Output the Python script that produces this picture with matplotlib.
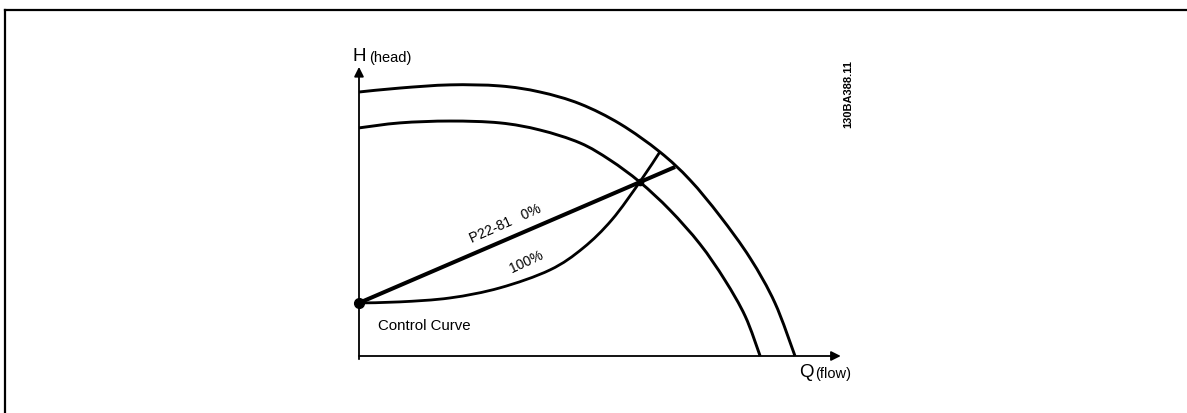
import matplotlib
matplotlib.use("Agg")
import numpy as np
import matplotlib.pyplot as plt
from matplotlib.lines import Line2D
from matplotlib.path import Path
from matplotlib.patches import PathPatch

plt.rcParams['font.family'] = ['Liberation Sans', 'DejaVu Sans']

# ---- data (Q = flow, H = head, arbitrary units) ----
outer_q = [0, 9.4, 20.9, 32.3, 41.5, 50.7, 59.9, 69.0, 75.9, 82.8, 89.7, 95.4, 100.0]
outer_h = [100.0, 101.5, 102.7, 102.3, 100.0, 95.5, 87.9, 77.3, 66.7, 53.0, 37.1, 20.1, 0]

inner_q = [0, 9.4, 20.9, 32.3, 41.5, 50.7, 57.6, 64.4, 71.3, 78.2, 83.9, 88.6, 92.0]
inner_h = [86.4, 88.3, 89.0, 88.3, 85.6, 80.7, 74.2, 65.9, 55.3, 42.4, 28.8, 15.0, 0]

line_q = [0, 72.5]
line_h = [20.1, 71.6]

curve100_q = [0, 9.4, 20.9, 32.3, 43.8, 51.4, 58.0, 64.4, 69.0]
curve100_h = [20.1, 20.5, 22.0, 25.8, 32.6, 40.9, 51.6, 65.9, 77.3]

op_q, op_h = 64.4, 65.9

# ---- figure ----
W, H = 1187, 413
fig = plt.figure(figsize=(W / 100, H / 100), dpi=100)
ax = fig.add_axes([0, 0, 1, 1])
sx, sy = 4.36, 2.64
ox, oy = 359, 356
ax.set_xlim(-ox / sx, (W - ox) / sx)
ax.set_ylim(-(H - oy) / sy, oy / sy)
ax.axis('off')


def smooth_path(xs, ys):
    """Cubic Bezier path through the given points (Catmull-Rom control points)."""
    p = np.column_stack([xs, ys]).astype(float)
    n = len(p)
    verts = [p[0]]
    codes = [Path.MOVETO]
    for i in range(n - 1):
        p0 = p[i - 1] if i > 0 else p[i]
        p1, p2 = p[i], p[i + 1]
        p3 = p[i + 2] if i + 2 < n else p[i + 1]
        c1 = p1 + (p2 - p0) / 6.0
        c2 = p2 - (p3 - p1) / 6.0
        verts += [c1, c2, p2]
        codes += [Path.CURVE4] * 3
    return Path(verts, codes)


def draw_curve(xs, ys, lw):
    ax.add_patch(PathPatch(smooth_path(xs, ys), facecolor='none', edgecolor='black',
                           lw=lw, capstyle='butt', joinstyle='round'))


# frame lines (scan border)
fig.add_artist(Line2D([5 / W, 1], [1 - 10 / H, 1 - 10 / H], transform=fig.transFigure, color='black', lw=1.6))
fig.add_artist(Line2D([5 / W, 5 / W], [0, 1 - 10 / H], transform=fig.transFigure, color='black', lw=1.6))

# axes arrows
ax.annotate('', xy=(0, 109.5), xytext=(0, -1.2),
            arrowprops=dict(arrowstyle='-|>', lw=1.3, color='black', mutation_scale=14, shrinkA=0, shrinkB=0))
ax.annotate('', xy=(110.5, 0), xytext=(0, 0),
            arrowprops=dict(arrowstyle='-|>', lw=1.3, color='black', mutation_scale=14, shrinkA=0, shrinkB=0))

# curves
draw_curve(outer_q, outer_h, 2.1)
draw_curve(inner_q, inner_h, 2.1)
draw_curve(curve100_q, curve100_h, 2.0)
ax.plot(line_q, line_h, lw=2.9, color='black', solid_capstyle='butt')
ax.plot([line_q[0]], [line_h[0]], 'o', color='black', ms=7)
ax.plot([op_q], [op_h], 'o', color='black', ms=4.5)

# labels
ax.text(33.5, 50.0, 'P22-81   0%', rotation=24, ha='center', va='center', fontsize=10)
ax.text(38.5, 35.6, '100%', rotation=25, ha='center', va='center', fontsize=10)
ax.text(4.4, 11.4, 'Control Curve', ha='left', va='center', fontsize=10.8)

ax.text(-1.6, 113.5, 'H', ha='left', va='center', fontsize=13.5)
ax.text(2.4, 112.8, '(head)', ha='left', va='center', fontsize=10.5)
ax.text(101.0, -6.3, 'Q', ha='left', va='center', fontsize=13.5)
ax.text(104.6, -6.8, '(flow)', ha='left', va='center', fontsize=10.5)

ax.text((848 - ox) / sx, (oy - 94) / sy, '130BA388.11', rotation=90, ha='center', va='center',
        fontsize=8, fontweight='bold', family=['Liberation Sans Narrow', 'Liberation Sans', 'DejaVu Sans'])

fig.savefig('out.png', dpi=100, facecolor='white')
